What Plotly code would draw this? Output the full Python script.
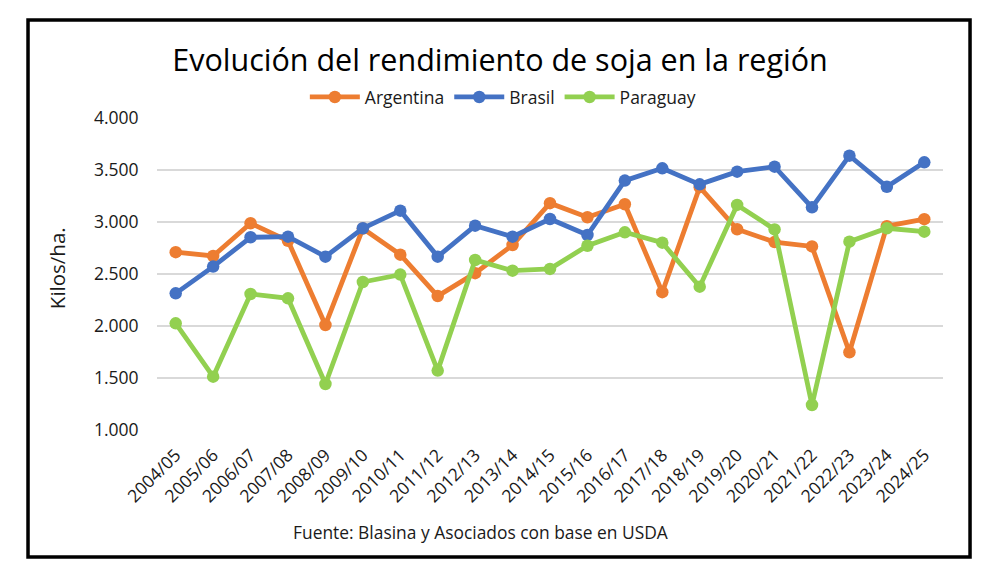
import plotly.graph_objects as go

campanas = ["2004/05", "2005/06", "2006/07", "2007/08", "2008/09", "2009/10",
            "2010/11", "2011/12", "2012/13", "2013/14", "2014/15", "2015/16",
            "2016/17", "2017/18", "2018/19", "2019/20", "2020/21", "2021/22",
            "2022/23", "2023/24", "2024/25"]

argentina = [2710, 2673, 2988, 2820, 2010, 2937, 2686, 2288, 2508, 2779, 3181,
             3046, 3171, 2325, 3335, 2930, 2807, 2765, 1748, 2960, 3027]
brasil = [2314, 2571, 2853, 2859, 2667, 2940, 3109, 2667, 2965, 2859, 3029,
          2875, 3398, 3516, 3362, 3484, 3532, 3141, 3638, 3339, 3574]
paraguay = [2026, 1513, 2308, 2266, 1442, 2423, 2494, 1571, 2635, 2532, 2549,
            2772, 2901, 2801, 2378, 3164, 2929, 1240, 2811, 2940, 2907]

y_ticks = [1000, 1500, 2000, 2500, 3000, 3500, 4000]

series = [("Argentina", argentina, "#ED7D31"),
          ("Brasil", brasil, "#4472C4"),
          ("Paraguay", paraguay, "#92D050")]

FONT = "Open Sans"
TXT = "#1a1a1a"

fig = go.Figure()
for name, vals, color in series:
    fig.add_trace(go.Scatter(x=campanas, y=vals, name=name, mode="lines+markers",
                             line=dict(color=color, width=4.8),
                             marker=dict(color=color, size=12.5)))

# page body adds 8px of margin, so the figure is a bit smaller than the window
fig.update_layout(
    width=992, height=573,
    margin=dict(l=149, r=57, t=110, b=151),
    paper_bgcolor="white", plot_bgcolor="white",
    separators=",.",
    font=dict(family=FONT, color=TXT),
    title=dict(text="Evolución del rendimiento de soja en la región",
               x=0.5 * 1000 / 992 - 8 / 992, xanchor="center",
               y=1 - 52 / 573, yanchor="middle",
               font=dict(size=30.5, color="black", family=FONT)),
    legend=dict(orientation="h", x=0.44, xanchor="center", y=1.067, yanchor="middle",
                font=dict(size=17.5, color=TXT), itemwidth=50,
                bgcolor="rgba(0,0,0,0)"),
    xaxis=dict(type="category", range=[-0.5, 20.5], showgrid=False, showline=False,
               ticks="outside", ticklen=7, tickcolor="rgba(0,0,0,0)",
               tickangle=-45, tickfont=dict(size=17.5, color=TXT)),
    yaxis=dict(range=[1000, 4000], tickvals=y_ticks, tickformat=",.0f",
               showgrid=True, gridcolor="#D9D9D9", gridwidth=1.5, zeroline=False,
               showline=False, ticks="outside", ticklen=14,
               tickcolor="rgba(0,0,0,0)",
               tickfont=dict(size=17.5, color=TXT)),
    annotations=[
        dict(text="Kilos/ha.", xref="paper", yref="paper", x=-0.128, y=0.52,
             textangle=-90, showarrow=False, xanchor="center", yanchor="middle",
             font=dict(size=20.5, color=TXT)),
        dict(text="Fuente: Blasina y Asociados con base en USDA", xref="paper",
             yref="paper", x=0.412, y=-0.327, showarrow=False,
             xanchor="center", yanchor="middle",
             font=dict(size=17.4, color=TXT)),
    ],
    shapes=[dict(type="rect", xref="paper", yref="paper",
                 x0=-0.1641, x1=1.0344, y0=-0.407, y1=1.314,
                 line=dict(color="black", width=3.5), layer="below")],
)

fig.write_html("out.html")
